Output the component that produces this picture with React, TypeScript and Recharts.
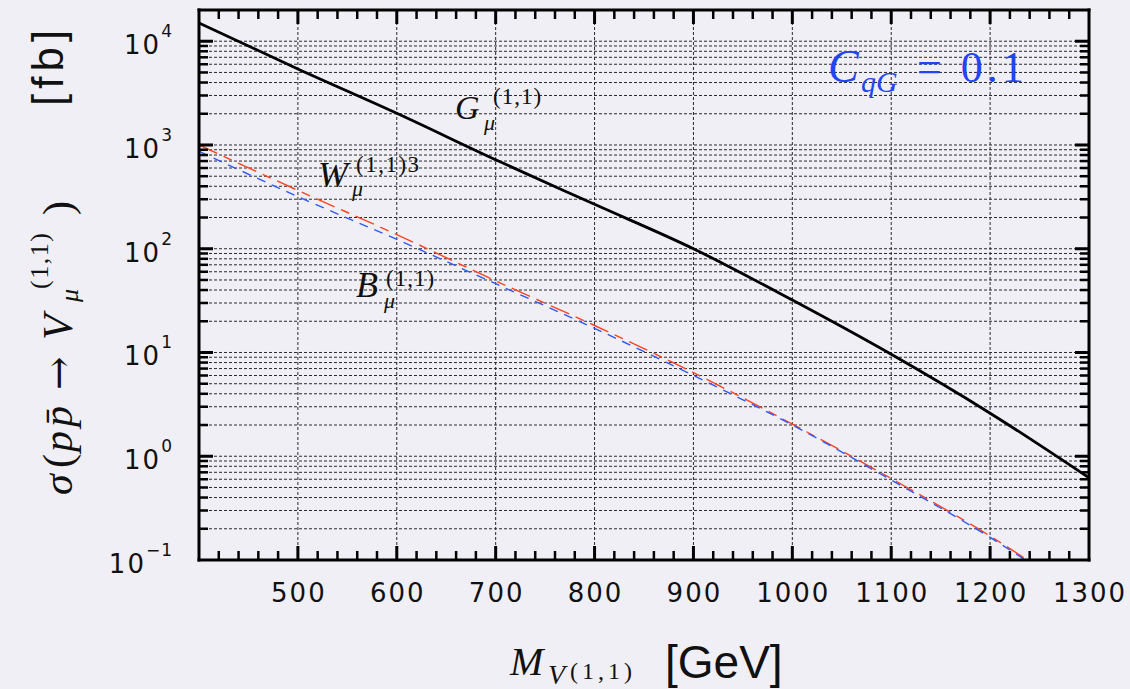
import { LineChart, Line, XAxis, YAxis, ReferenceLine } from 'recharts';

// cross sections in fb at each mass (GeV)
const masses = [400, 500, 600, 700, 800, 900, 1000, 1100, 1200, 1240, 1300];
const gluon = [15000, 5400, 2020, 720, 268, 100, 32, 9.6, 2.6, null, 0.62];
const wBoson = [1000, 365, 137, 49, 18.2, 6.4, 2.04, 0.61, 0.17, 0.097, null];
const bBoson = [870, 318, 123, 46, 17.1, 6.0, 2.0, 0.59, 0.165, 0.094, null];

const xMajor = [500, 600, 700, 800, 900, 1000, 1100, 1200, 1300];
const xMinorStep = 20;
const decades = [0.1, 1, 10, 100, 1000, 10000];

const data = masses.map((m, i) => ({ m, g: gluon[i], w: wBoson[i], b: bBoson[i] }));

const xTicks: number[] = [];
for (let v = 400 + xMinorStep; v <= 1300; v += xMinorStep) xTicks.push(v);

const yTicks: number[] = [];
decades.forEach((d) => {
  for (let k = 1; k <= 9; k++) {
    const v = +(k * d).toPrecision(3);
    if (v <= 10000) yTicks.push(v);
  }
});
const yGrid = yTicks.filter((v) => v > 0.1);
const xGrid = xMajor.filter((v) => v < 1300);

const isDecade = (v: number) => Math.abs(Math.log10(v) - Math.round(Math.log10(v))) < 1e-6;
const tickFont = { fontFamily: 'DejaVu Sans', fontSize: 26, letterSpacing: 2, fill: '#111' };
const serif = 'Liberation Serif';
const MAJOR = 14;
const MINOR = 9;

// tick marks are drawn as small filled rects pointing into the plot
function mark(x: number, y: number, dx: number, dy: number, w: number) {
  const x0 = dx === 0 ? x - w / 2 : Math.min(x, x + dx);
  const y0 = dy === 0 ? y - w / 2 : Math.min(y, y + dy);
  return <rect x={x0} y={y0} width={dx === 0 ? w : Math.abs(dx)} height={dy === 0 ? w : Math.abs(dy)} fill="#000" />;
}

function BottomTick({ x, y, payload }: any) {
  const v = payload.value;
  const major = v % 100 === 0;
  return (
    <g>
      {v < 1300 && mark(x, y, 0, -(major ? MAJOR : MINOR), major ? 3 : 2.5)}
      {major && (
        <text x={x + 1} y={y + 42} textAnchor="middle" {...tickFont}>
          {v}
        </text>
      )}
    </g>
  );
}

function TopTick({ x, y, payload }: any) {
  const v = payload.value;
  const major = v % 100 === 0;
  return <g>{v < 1300 && mark(x, y, 0, major ? MAJOR : MINOR, major ? 3 : 2.5)}</g>;
}

function LeftTick({ x, y, payload }: any) {
  const v = payload.value;
  const major = isDecade(v);
  const exp = Math.round(Math.log10(v));
  return (
    <g>
      {v > 0.1 && mark(x, y, major ? MAJOR : MINOR, 0, major ? 3 : 2.5)}
      {major && (
        <text x={x - 26} y={y + 13} textAnchor="end" {...tickFont}>
          10
          <tspan dy={-17} fontSize={17} letterSpacing={1}>
            {exp < 0 ? '\u2212' + -exp : exp}
          </tspan>
        </text>
      )}
    </g>
  );
}

function RightTick({ x, y, payload }: any) {
  const v = payload.value;
  const major = isDecade(v);
  return <g>{v > 0.1 && mark(x, y, -(major ? MAJOR : MINOR), 0, major ? 3 : 2.5)}</g>;
}

const frame = { stroke: '#000', strokeWidth: 3, strokeLinecap: 'square' as const };

export default function App() {
  return (
    <div style={{ position: 'absolute', left: 0, top: 0, width: 1130, height: 689, background: '#f0eff5', overflow: 'hidden' }}>
      <LineChart width={1130} height={689} data={data} margin={{ top: 9, right: 40, bottom: 128, left: 198 }}>
        {yGrid.map((v) => (
          <ReferenceLine key={'h' + v} xAxisId="bottom" yAxisId="left" y={v} stroke="#2a2a2a" strokeWidth={1} strokeDasharray="3 2" />
        ))}
        {xGrid.map((v) => (
          <ReferenceLine key={'v' + v} xAxisId="bottom" yAxisId="left" x={v} stroke="#2a2a2a" strokeWidth={1} strokeDasharray="3 2" />
        ))}
        <XAxis
          xAxisId="bottom"
          dataKey="m"
          type="number"
          domain={[400, 1300]}
          allowDataOverflow
          ticks={xTicks}
          interval={0}
          height={1}
          tickSize={0}
          tickMargin={0}
          tick={<BottomTick />}
          axisLine={frame}
        />
        <XAxis
          xAxisId="top"
          orientation="top"
          dataKey="m"
          type="number"
          domain={[400, 1300]}
          allowDataOverflow
          ticks={xTicks}
          interval={0}
          height={1}
          tickSize={0}
          tickMargin={0}
          tick={<TopTick />}
          axisLine={frame}
        />
        <YAxis
          yAxisId="left"
          type="number"
          scale="log"
          domain={[0.1, 20000]}
          allowDataOverflow
          ticks={yTicks}
          interval={0}
          width={1}
          tickSize={0}
          tickMargin={0}
          tick={<LeftTick />}
          axisLine={frame}
        />
        <YAxis
          yAxisId="right"
          orientation="right"
          type="number"
          scale="log"
          domain={[0.1, 20000]}
          allowDataOverflow
          ticks={yTicks}
          interval={0}
          width={1}
          tickSize={0}
          tickMargin={0}
          tick={<RightTick />}
          axisLine={frame}
        />
        <Line
          xAxisId="bottom"
          yAxisId="left"
          type="monotone"
          dataKey="g"
          stroke="#000"
          strokeWidth={2.8}
          dot={false}
          connectNulls
          isAnimationActive={false}
        />
        <Line
          xAxisId="bottom"
          yAxisId="left"
          type="monotone"
          dataKey="w"
          stroke="#ff4321"
          strokeWidth={1.4}
          strokeDasharray="20 7 9 7"
          dot={false}
          isAnimationActive={false}
        />
        <Line
          xAxisId="bottom"
          yAxisId="left"
          type="monotone"
          dataKey="b"
          stroke="#2f58ff"
          strokeWidth={1.4}
          strokeDasharray="9 7"
          dot={false}
          isAnimationActive={false}
        />
      </LineChart>

      <svg width={1130} height={689} style={{ position: 'absolute', left: 0, top: 0, pointerEvents: 'none' }}>
        {/* curve labels */}
        <g fill="#111" fontFamily={serif}>
          <text x={455} y={119} fontSize={34} fontStyle="italic">G</text>
          <text x={484} y={130} fontSize={22} fontStyle="italic">μ</text>
          <text x={493} y={104} fontSize={23} letterSpacing={1}>(1,1)</text>

          <text x={318} y={187} fontSize={36} fontStyle="italic">W</text>
          <text x={352} y={196} fontSize={22} fontStyle="italic">μ</text>
          <text x={356} y={172} fontSize={23} letterSpacing={1.5}>(1,1)3</text>

          <text x={356} y={297} fontSize={36} fontStyle="italic">B</text>
          <text x={384} y={308} fontSize={22} fontStyle="italic">μ</text>
          <text x={386} y={286} fontSize={23} letterSpacing={1}>(1,1)</text>
        </g>
        <g fill="#1f45f5" fontFamily={serif}>
          <text x={828} y={82} fontSize={46} fontStyle="italic">C</text>
          <text x={861} y={92} fontSize={30} fontStyle="italic">qG</text>
          <text x={917} y={82} fontSize={44} letterSpacing={4}>= 0.1</text>
        </g>

        {/* x axis title */}
        <g fill="#111">
          <text x={510} y={675} fontFamily={serif} fontSize={40} fontStyle="italic">M</text>
          <text x={548} y={684} fontFamily={serif} fontSize={28} fontStyle="italic">V</text>
          <text x={570} y={679} fontFamily={serif} fontSize={24} letterSpacing={4}>(1,1)</text>
          <text x={665} y={678} fontFamily="Liberation Sans" fontSize={46}>[GeV]</text>
        </g>

        {/* y axis title, read bottom to top */}
        <g transform="translate(72,0) rotate(-90)" fill="#111" fontFamily={serif} fontSize={42}>
          <text x={-495} y={0} fontStyle="italic">σ</text>
          <text x={-468} y={0}>(</text>
          <text x={-452} y={0} fontStyle="italic">p</text>
          <text x={-427} y={0} fontStyle="italic">p{'\u0304'}</text>
          <text x={-390} y={0} fontFamily="DejaVu Serif" fontSize={40}>→</text>
          <text x={-340} y={0} fontStyle="italic">V</text>
          <text x={-302} y={6} fontSize={26} fontStyle="italic">μ</text>
          <text x={-289} y={-24} fontSize={26} letterSpacing={1.5}>(1,1)</text>
          <text x={-215} y={0}>)</text>
          <text x={-106} y={-9} fontFamily="Liberation Sans" fontSize={44} letterSpacing={5}>[fb]</text>
        </g>
      </svg>
    </div>
  );
}
